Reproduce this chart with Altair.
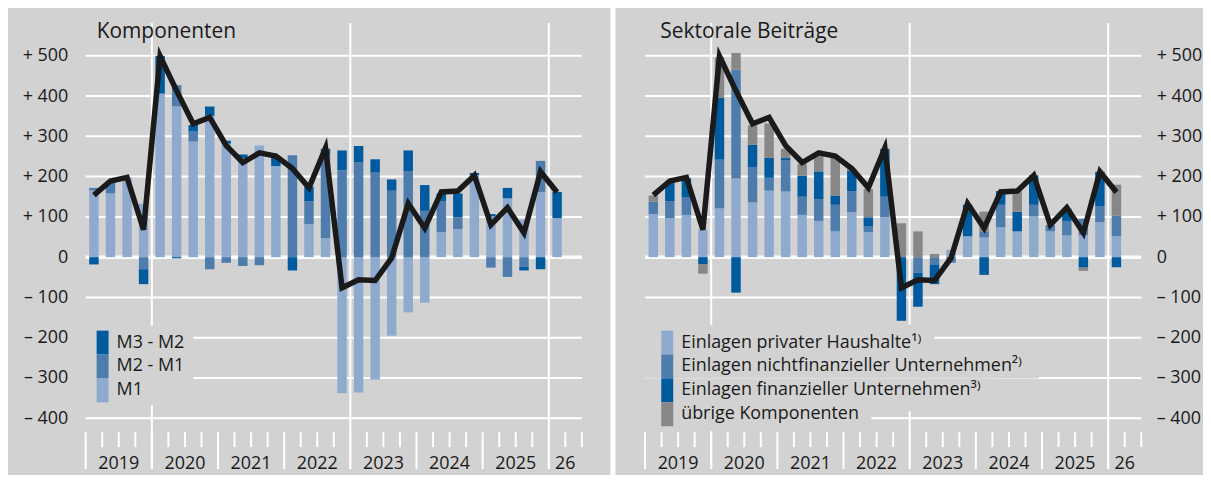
import altair as alt
import pandas as pd

# ---------------- data ----------------
quarters = [f"{y}Q{q}" for y in range(2019, 2026) for q in range(1, 5)] + ["2026Q1"]

total = [154, 189, 198, 68, 499, 413, 331, 347, 277, 235, 259, 251, 220, 172, 271, -76,
         -56, -58, -2, 133, 72, 162, 164, 203, 80, 123, 60, 212, 161]

# Komponenten
m1 = [166, 158, 198, 133, 406, 374, 287, 351, 282, 246, 277, 226, 0, 82, 47, -338,
      -336, -304, -195, -137, -113, 62, 70, 204, 101, 146, 93, 162, 97]
m2_m1 = [6, 25, 0, -30, 0, 53, 25, -30, -14, -22, -20, 0, 253, 57, 205, 216,
         235, 210, 165, 214, 115, 77, 29, 0, -26, -49, -24, 77, 0]
m3_m2 = [-18, 5, 0, -37, 94, -3, 16, 23, 7, 9, 0, 24, -33, 36, 17, 49,
         41, 33, 28, 51, 64, 19, 59, 5, 6, 26, -9, -30, 65]

# Sektorale Beiträge
haushalte = [107, 97, 105, 68, 121, 195, 136, 165, 163, 105, 90, 64, 112, 62, 99, 0,
             0, 0, 18, 52, 49, 74, 64, 101, 64, 54, 55, 87, 52]
nichtfin = [31, 42, 43, 0, 121, 271, 88, 32, 77, 45, 54, 66, 52, 14, 51, 0,
            -39, -18, -14, 0, 15, 56, 0, 29, 16, 36, 40, 39, 51]
finanz = [0, 45, 48, -18, 154, -88, 55, 50, 6, 52, 69, 23, 50, 23, 119, -158,
          -84, -49, 0, 78, -44, 34, 49, 73, 0, 30, -26, 86, -25]
uebrige = [15, 0, 0, -23, 100, 41, 48, 85, 23, 30, 40, 95, 6, 70, 0, 84,
           64, 8, 0, 0, 49, 0, 51, 0, 0, 0, -8, 0, 77]

year_labels = ["2019", "2020", "2021", "2022", "2023", "2024", "2025", "26"]
y_ticks = [-400, -300, -200, -100, 0, 100, 200, 300, 400, 500]

left_title = "Komponenten"
right_title = "Sektorale Beiträge"
left_names = ["M1", "M2 - M1", "M3 - M2"]
right_names = ["Einlagen privater Haushalte¹⁾",
               "Einlagen nichtfinanzieller Unternehmen²⁾",
               "Einlagen finanzieller Unternehmen³⁾",
               "übrige Komponenten"]

# ---------------- style ----------------
LIGHT, MED, DARK, GREY = "#8eaacf", "#4d7cad", "#005a9e", "#878787"
BG, INK, FONT = "#d2d2d2", "#1a1a1a", "Open Sans"
W_PANEL, GAP_PX, H = 503, 64, 411
W = 2 * W_PANEL + GAP_PX
N_SLOTS = 30
SLOT = W_PANEL / N_SLOTS
OFF = N_SLOTS + GAP_PX / SLOT          # right panel offset in slot units
XMAX = OFF + N_SLOTS
YDOM = [-434.6, 581.6]
OFF_PX = W_PANEL + GAP_PX

xs = alt.Scale(domain=[0, XMAX], nice=False, zero=False)
ys = alt.Scale(domain=YDOM, nice=False, zero=False)

# ---------------- tables ----------------
def stack(series, keys, offset):
    rows = []
    for i in range(len(quarters)):
        pos = neg = 0
        for key, vals in zip(keys, series):
            v = vals[i]
            if v == 0:
                continue
            if v > 0:
                rows.append({"x": i + 0.5 + offset, "y0": pos, "y1": pos + v, "comp": key})
                pos += v
            else:
                rows.append({"x": i + 0.5 + offset, "y0": neg, "y1": neg + v, "comp": key})
                neg += v
    return rows

comp_keys = ["L1", "L2", "L3", "R1", "R2", "R3", "R4"]
comp_cols = [LIGHT, MED, DARK, LIGHT, MED, DARK, GREY]
bars = pd.DataFrame(stack([m1, m2_m1, m3_m2], comp_keys[:3], 0)
                    + stack([haushalte, nichtfin, finanz, uebrige], comp_keys[3:], OFF))

lines = pd.DataFrame(
    [{"x": i + 0.5, "v": t, "panel": "L"} for i, t in enumerate(total)]
    + [{"x": i + 0.5 + OFF, "v": t, "panel": "R"} for i, t in enumerate(total)])

grid = pd.DataFrame([{"v": v, "x0": o, "x1": o + N_SLOTS} for v in y_ticks if v != 0 for o in (0, OFF)])
zero = pd.DataFrame([{"v": 0, "x0": o, "x1": o + N_SLOTS} for o in (0, OFF)])
vgrid = pd.DataFrame([{"x": k + o} for k in (4, 16, 28) for o in (0, OFF)])
qticks = pd.DataFrame([{"x": k + o} for k in range(N_SLOTS + 1) if k % 4 != 0 for o in (0, OFF)])
yticks_long = pd.DataFrame([{"x": k + o} for k in range(0, N_SLOTS, 4) for o in (0, OFF)])
ylab_pos = [4 * k + 2 for k in range(7)] + [29]
ylabs = pd.DataFrame([{"x": p + o, "t": t} for p, t in zip(ylab_pos, year_labels) for o in (0, OFF)])

dummy = pd.DataFrame({"d": [0]})
LABEL_EXPR = "datum.value > 0 ? '+ ' + datum.value : (datum.value < 0 ? '– ' + abs(datum.value) : '0')"

X = lambda f: alt.X(f, scale=xs, axis=None)

layers = []
# horizontal grid + left axis
layers.append(alt.Chart(grid).mark_rule(color="white", strokeWidth=2).encode(
    x=X("x0:Q"), x2="x1:Q",
    y=alt.Y("v:Q", scale=ys, axis=alt.Axis(orient="left", values=y_ticks, labelExpr=LABEL_EXPR,
                                           domain=False, ticks=False, grid=False, labelPadding=13,
                                           title=None))))
# zero line + right axis
layers.append(alt.Chart(zero).mark_rule(color="white", strokeWidth=3.5).encode(
    x=X("x0:Q"), x2="x1:Q",
    y=alt.Y("v:Q", scale=ys, axis=alt.Axis(orient="right", values=y_ticks, labelExpr=LABEL_EXPR,
                                           domain=False, ticks=False, grid=False, labelPadding=10,
                                           title=None))))
# vertical year lines
layers.append(alt.Chart(vgrid).mark_rule(color="white", strokeWidth=2).encode(
    x=X("x:Q"), y=alt.value(0), y2=alt.value(H + 37)))
# x ticks
layers.append(alt.Chart(qticks).mark_rule(color="white", strokeWidth=2).encode(
    x=X("x:Q"), y=alt.value(H), y2=alt.value(H + 15)))
layers.append(alt.Chart(yticks_long).mark_rule(color="white", strokeWidth=2).encode(
    x=X("x:Q"), y=alt.value(H), y2=alt.value(H + 37)))
layers.append(alt.Chart(ylabs).mark_text(font=FONT, fontSize=18, color=INK, baseline="alphabetic",
                                         align="center").encode(
    x=X("x:Q"), y=alt.value(H + 37), text="t:N"))
# bars
layers.append(alt.Chart(bars).mark_bar(size=9.5).encode(
    x=X("x:Q"),
    y=alt.Y("y0:Q", scale=ys, axis=None), y2="y1:Q",
    color=alt.Color("comp:N", scale=alt.Scale(domain=comp_keys, range=comp_cols), legend=None)))
# line
layers.append(alt.Chart(lines).mark_line(color=INK, strokeWidth=5.5, strokeJoin="miter").encode(
    x=X("x:Q"), y=alt.Y("v:Q", scale=ys, axis=None), detail="panel:N"))


def rect(x0, x1, y0, y1, color):
    return alt.Chart(dummy).mark_rect(color=color).encode(
        x=alt.value(x0), x2=alt.value(x1), y=alt.value(y0), y2=alt.value(y1))


def label(x, y, text, size=18, baseline="middle"):
    return alt.Chart(pd.DataFrame({"t": [text]})).mark_text(
        align="left", baseline=baseline, font=FONT, fontSize=size, color=INK).encode(
        x=alt.value(x), y=alt.value(y), text="t:N")


# left legend
layers.append(rect(0, 113, 304, 384, BG))
for i, (name, col) in enumerate(zip(left_names[::-1], [DARK, MED, LIGHT])):
    layers.append(rect(16, 28, 309 + 24 * i, 333 + 24 * i, col))
    layers.append(label(36, 321 + 24 * i, name))

# right legend
for (x1, y0, y1) in [(290, 303, 333), (395, 333, 357), (352, 357, 390), (227, 390, 410)]:
    layers.append(rect(OFF_PX, OFF_PX + x1, y0, y1, BG))
for i, (name, col) in enumerate(zip(right_names, [LIGHT, MED, DARK, GREY])):
    layers.append(rect(OFF_PX + 16, OFF_PX + 28, 309 + 24 * i, 333 + 24 * i, col))
    layers.append(label(OFF_PX + 36, 321 + 24 * i, name))

# panel titles
layers.append(label(16, 15, left_title, size=21, baseline="alphabetic"))
layers.append(label(OFF_PX + 15, 15, right_title, size=21, baseline="alphabetic"))

# white separator between panels
layers.append(alt.Chart(dummy).mark_rule(color="white", strokeWidth=5).encode(
    x=alt.value(W_PANEL + 31.5), y=alt.value(-20), y2=alt.value(H + 80)))

chart = alt.layer(*layers).properties(
    width=W, height=H,
    autosize=alt.AutoSizeParams(type="none"),
    padding={"left": 73, "top": 14, "right": 57, "bottom": 42},
    background=BG,
).resolve_scale(y="independent").configure_view(stroke=None).configure_axis(
    labelFont=FONT, labelFontSize=18, labelColor=INK)

chart.save("out.html", embed_options={"renderer": "svg", "actions": False})
